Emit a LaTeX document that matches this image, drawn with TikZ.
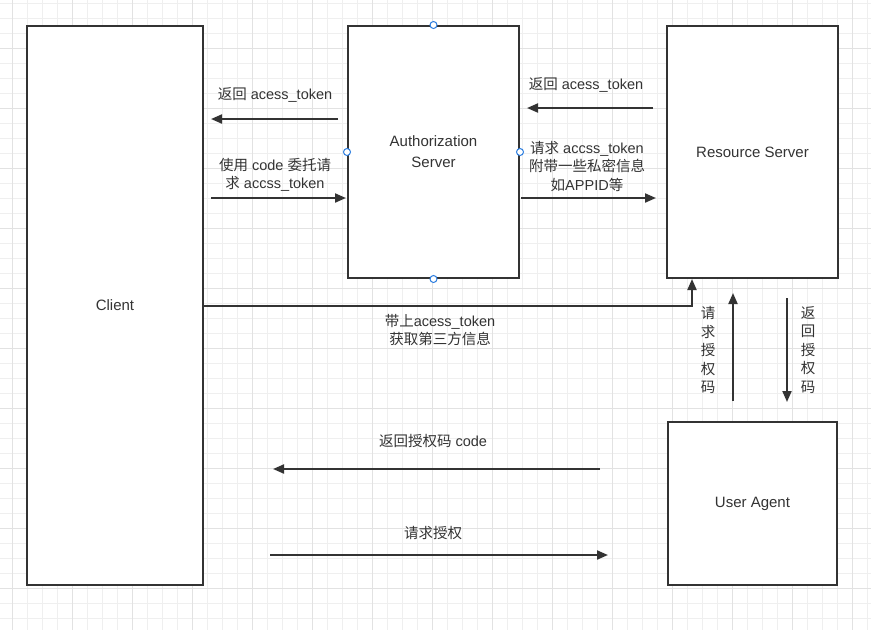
\documentclass[tikz,border=0pt]{standalone}
\usepackage{fontspec}
\setmainfont{Liberation Sans}
\newfontfamily\cjk{Noto Sans CJK SC}
\usetikzlibrary{arrows.meta}
\definecolor{ink}{HTML}{333333}
\definecolor{gridminor}{HTML}{EFEFEF}
\definecolor{gridmajor}{HTML}{E2E2E2}
\definecolor{handle}{HTML}{2B7DE0}
\tikzset{
  box/.style={draw=ink, line width=2pt, fill=white, inner sep=0pt, font=\fontsize{15}{21}\selectfont, text=ink, align=center},
  arr/.style={draw=ink, line width=2pt, -{Triangle[length=11pt,width=9pt]}},
  lbl/.style={font=\fontsize{14.5}{18.5}\selectfont, text=ink, align=center, inner sep=0pt},
  vlbl/.style={font=\cjk\fontsize{14.5}{18.5}\selectfont, text=ink, align=center, inner sep=0pt},
  hdl/.style={circle, draw=handle, fill=white, line width=1pt, minimum size=7pt, inner sep=0pt},
}
\begin{document}
\begin{tikzpicture}[x=1pt,y=-1pt]
\useasboundingbox (0,0) rectangle (871,630);
\fill[white] (0,0) rectangle (871,630);
% grid
\foreach \gx in {12,27,...,867} {\draw[gridminor, line width=1pt] (\gx,0) -- (\gx,630);}
\foreach \gy in {3,18,...,630} {\draw[gridminor, line width=1pt] (0,\gy) -- (871,\gy);}
\foreach \gx in {12,72,...,867} {\draw[gridmajor, line width=1pt] (\gx,0) -- (\gx,630);}
\foreach \gy in {48,108,...,630} {\draw[gridmajor, line width=1pt] (0,\gy) -- (871,\gy);}
% boxes
\node[box, minimum width=176pt, minimum height=559pt] (client) at (115,305.5) {Client};
\node[box, minimum width=171pt, minimum height=252pt] (as) at (433.5,152) {Authorization\\Server};
\node[box, minimum width=171pt, minimum height=252pt] (rs) at (752.5,152) {Resource Server};
\node[box, minimum width=169pt, minimum height=163pt] (ua) at (752.5,503.5) {User Agent};
% handles
\node[hdl] (h1) at (as.north) {};
\node[hdl] (h2) at (as.south) {};
\node[hdl] (h3) at (as.west) {};
\node[hdl] (h4) at (as.east) {};
% coordinates
\coordinate (a1s) at (338,119); \coordinate (a1e) at (211,119);
\coordinate (a2s) at (211,198); \coordinate (a2e) at (346,198);
\coordinate (a3s) at (653,108); \coordinate (a3e) at (527,108);
\coordinate (a4s) at (521,198); \coordinate (a4e) at (656,198);
\coordinate (a5e) at (692,279);
\coordinate (a6s) at (733,401); \coordinate (a6e) at (733,293);
\coordinate (a7s) at (787,298); \coordinate (a7e) at (787,402);
\coordinate (a8s) at (600,469); \coordinate (a8e) at (273,469);
\coordinate (a9s) at (270,555); \coordinate (a9e) at (608,555);
% arrows
\draw[arr] (a1s) -- (a1e);
\draw[arr] (a2s) -- (a2e);
\draw[arr] (a3s) -- (a3e);
\draw[arr] (a4s) -- (a4e);
\draw[arr] (client.east |- 0,306) -| (a5e);
\draw[arr] (a6s) -- (a6e);
\draw[arr] (a7s) -- (a7e);
\draw[arr] (a8s) -- (a8e);
\draw[arr] (a9s) -- (a9e);
% labels
\node[lbl] (l1) at (275,95) {{\cjk 返回} acess\_token};
\node[lbl] (l2) at (275,175) {{\cjk 使用} code {\cjk 委托请}\\{\cjk 求} accss\_token};
\node[lbl] (l3) at (586,85) {{\cjk 返回} acess\_token};
\node[lbl] (l4) at (587,166) {{\cjk 请求} accss\_token\\{\cjk 附带一些私密信息}\\{\cjk 如}APPID{\cjk 等}};
\node[lbl] (l5) at (440,330) {{\cjk 带上}acess\_token\\{\cjk 获取第三方信息}};
\node[vlbl] (l6) at (708,350) {请\\求\\授\\权\\码};
\node[vlbl] (l7) at (808,350) {返\\回\\授\\权\\码};
\node[lbl] (l8) at (433,441) {{\cjk 返回授权码} code};
\node[vlbl] (l9) at (433,533) {请求授权};
\end{tikzpicture}
\end{document}
